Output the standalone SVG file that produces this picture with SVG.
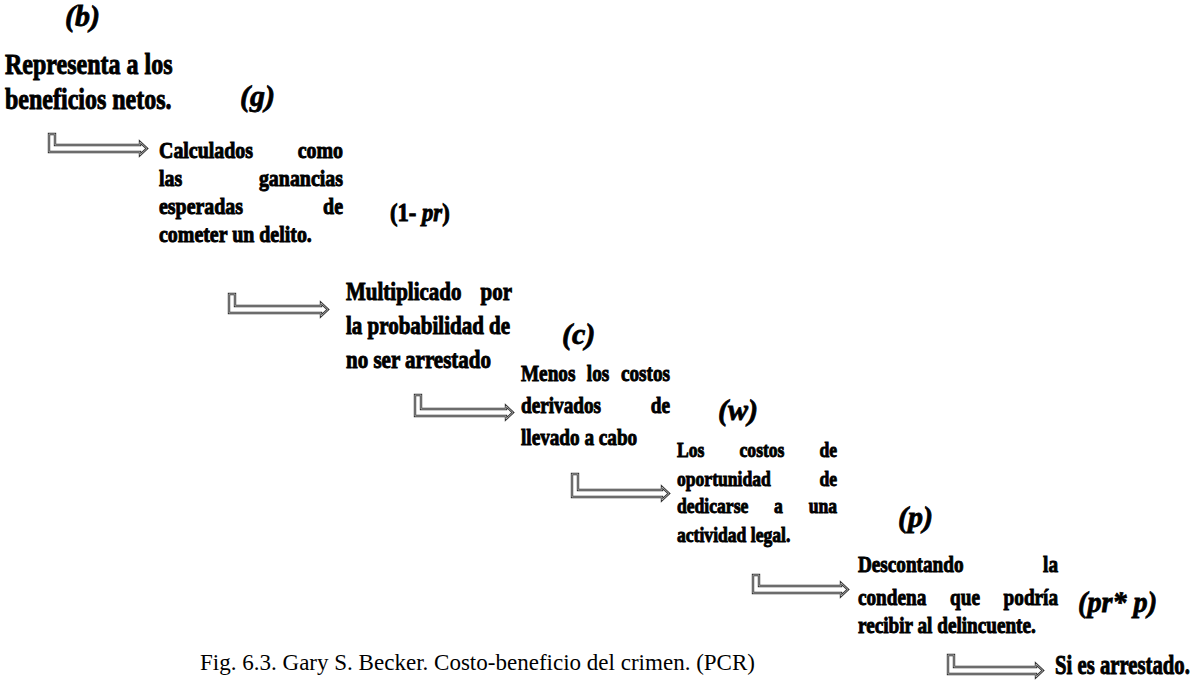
<svg xmlns="http://www.w3.org/2000/svg" width="1192" height="682" viewBox="0 0 1192 682">
<style>
.t{font-family:"Liberation Serif","Times New Roman",serif;font-weight:bold;fill:#000;stroke:#000;stroke-width:0.95}
.lbl{font-family:"Liberation Serif","Times New Roman",serif;font-weight:bold;font-style:italic;font-size:30px;fill:#000;stroke:#000;stroke-width:0.8}
.e{text-anchor:end}
.m{text-anchor:middle}
.cap{font-family:"Liberation Serif","Times New Roman",serif;font-size:22.5px;fill:#000}
.arr{fill:#fff;stroke:#333;stroke-width:2.4;stroke-linejoin:miter}
.arr2{fill:none;stroke:#c4c4c4;stroke-width:0.8}
</style>
<defs>
<path id="a1" d="M49 134 H55 V145 H140 V142 L147 148.5 L140 155 V152 H49 Z"/>
<path id="a2" d="M229 294 H235 V306 H321 V303 L328 309.5 L321 316 V313 H229 Z"/>
<path id="a3" d="M415 395 H421 V409 H506 V406 L513 412.5 L506 419 V416 H415 Z"/>
<path id="a4" d="M572 474 H578 V490 H662 V487 L669 493.5 L662 500 V497 H572 Z"/>
<path id="a6" d="M753 575 H759 V586 H841 V583 L848 589.5 L841 596 V593 H753 Z"/>
<path id="a7" d="M948 655 H954 V667 H1036 V664 L1043 670.5 L1036 677 V674 H948 Z"/>
</defs>
<rect width="1192" height="682" fill="#fff"/>
<g id="connectors">
<use href="#a1" class="arr"/><use href="#a1" class="arr2"/>
<use href="#a2" class="arr"/><use href="#a2" class="arr2"/>
<use href="#a3" class="arr"/><use href="#a3" class="arr2"/>
<use href="#a4" class="arr"/><use href="#a4" class="arr2"/>
<use href="#a6" class="arr"/><use href="#a6" class="arr2"/>
<use href="#a7" class="arr"/><use href="#a7" class="arr2"/>
</g>
<g id="node-b">
<text class="lbl" x="65" y="26">(b)</text>
<text class="t" font-size="30" transform="translate(5,74) scale(.8,1)">Representa a los</text>
<text class="t" font-size="30" transform="translate(5,109) scale(.8,1)">beneficios netos.</text>
</g>
<g id="node-g">
<text class="lbl" x="240" y="106">(g)</text>
<text class="t" font-size="24" transform="translate(159,158) scale(.83,1)">Calculados</text>
<text class="t e" font-size="24" transform="translate(343,158) scale(.83,1)">como</text>
<text class="t" font-size="24" transform="translate(159,186) scale(.83,1)">las</text>
<text class="t e" font-size="24" transform="translate(343,186) scale(.83,1)">ganancias</text>
<text class="t" font-size="24" transform="translate(159,214) scale(.83,1)">esperadas</text>
<text class="t e" font-size="24" transform="translate(343,214) scale(.83,1)">de</text>
<text class="t" font-size="24" transform="translate(159,242) scale(.83,1)">cometer un delito.</text>
</g>
<g id="node-1pr">
<text class="t" font-size="26" transform="translate(390,221) scale(.87,1)">(1- <tspan font-style="italic">pr</tspan>)</text>
<text class="t" font-size="25" transform="translate(346,300) scale(.84,1)">Multiplicado</text>
<text class="t e" font-size="25" transform="translate(512,300) scale(.84,1)">por</text>
<text class="t" font-size="25" transform="translate(346,334) scale(.84,1)">la probabilidad de</text>
<text class="t" font-size="25" transform="translate(346,368) scale(.84,1)">no ser arrestado</text>
</g>
<g id="node-c">
<text class="lbl" x="562" y="344">(c)</text>
<text class="t" font-size="24" transform="translate(521,381) scale(.8,1)">Menos</text>
<text class="t m" font-size="24" transform="translate(598,381) scale(.8,1)">los</text>
<text class="t e" font-size="24" transform="translate(670,381) scale(.8,1)">costos</text>
<text class="t" font-size="24" transform="translate(521,413) scale(.8,1)">derivados</text>
<text class="t e" font-size="24" transform="translate(670,413) scale(.8,1)">de</text>
<text class="t" font-size="24" transform="translate(521,445) scale(.8,1)">llevado a cabo</text>
</g>
<g id="node-w">
<text class="lbl" x="718" y="420">(w)</text>
<text class="t" font-size="22" transform="translate(677,457) scale(.8,1)">Los</text>
<text class="t m" font-size="22" transform="translate(762,457) scale(.8,1)">costos</text>
<text class="t e" font-size="22" transform="translate(837,457) scale(.8,1)">de</text>
<text class="t" font-size="22" transform="translate(677,486) scale(.8,1)">oportunidad</text>
<text class="t e" font-size="22" transform="translate(837,486) scale(.8,1)">de</text>
<text class="t" font-size="22" transform="translate(677,513) scale(.8,1)">dedicarse</text>
<text class="t m" font-size="22" transform="translate(778.5,513) scale(.8,1)">a</text>
<text class="t e" font-size="22" transform="translate(837,513) scale(.8,1)">una</text>
<text class="t" font-size="22" transform="translate(677,542) scale(.8,1)">actividad legal.</text>
</g>
<g id="node-p">
<text class="lbl" x="898" y="527">(p)</text>
<text class="t" font-size="24" transform="translate(858,572) scale(.8,1)">Descontando</text>
<text class="t e" font-size="24" transform="translate(1058,572) scale(.8,1)">la</text>
<text class="t" font-size="24" transform="translate(858,605) scale(.8,1)">condena</text>
<text class="t m" font-size="24" transform="translate(965,605) scale(.8,1)">que</text>
<text class="t e" font-size="24" transform="translate(1058,605) scale(.8,1)">podría</text>
<text class="t" font-size="24" transform="translate(858,633) scale(.8,1)">recibir al delincuente.</text>
</g>
<g id="node-prp">
<text class="lbl" transform="translate(1078,612) scale(.94,1)">(pr* p)</text>
</g>
<g id="node-arrestado">
<text class="t" font-size="28" transform="translate(1055,674) scale(.74,1)">Si es arrestado.</text>
</g>
<g id="caption">
<text class="cap" x="200" y="670" textLength="555" lengthAdjust="spacingAndGlyphs">Fig. 6.3. Gary S. Becker. Costo-beneficio del crimen. (PCR)</text>
</g>
</svg>
